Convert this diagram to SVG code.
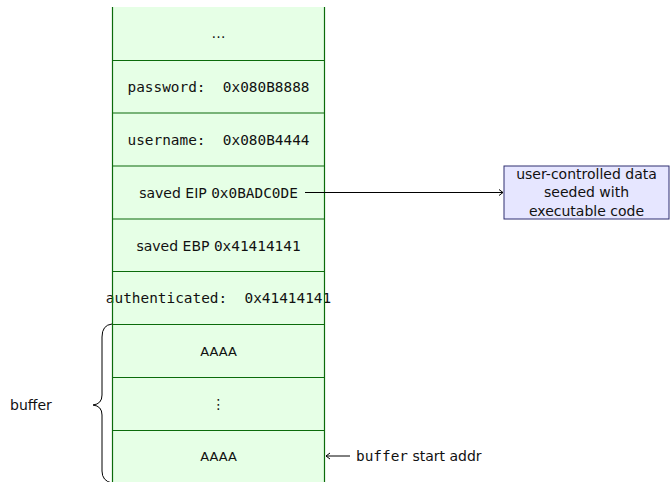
<svg xmlns="http://www.w3.org/2000/svg" width="670" height="482" viewBox="0 0 670 482">
<style>
.cell{fill:#e6ffe6;stroke:none}
.div{stroke:#0b6b0b;stroke-width:1.2;fill:none}
.mono{font-family:"DejaVu Sans Mono",monospace;font-size:14.4px;fill:#111}
.sans{font-family:"DejaVu Sans",sans-serif;font-size:14px;fill:#111}
.t{text-anchor:middle;dominant-baseline:central}
.edge{stroke:#000;stroke-width:1;fill:none}
</style>
<defs>
<marker id="open" markerWidth="10" markerHeight="10" refX="8" refY="5" orient="auto" markerUnits="userSpaceOnUse">
<path d="M4,2 L8,5 L4,8" fill="none" stroke="#000" stroke-width="1"/>
</marker>
</defs>
<rect class="cell" x="112.5" y="7" width="212" height="476"/>
<g id="row-top"><text class="sans t" x="218.5" y="33">…</text></g>
<g id="row-password"><text class="mono t" x="218.5" y="87" xml:space="preserve">password:  0x080B8888</text></g>
<g id="row-username"><text class="mono t" x="218.5" y="140" xml:space="preserve">username:  0x080B4444</text></g>
<g id="row-eip"><text class="t" x="218.5" y="192.5"><tspan class="sans">saved EIP </tspan><tspan class="mono">0x0BADC0DE</tspan></text></g>
<g id="row-ebp"><text class="t" x="218.5" y="245.5"><tspan class="sans">saved EBP </tspan><tspan class="mono">0x41414141</tspan></text></g>
<g id="row-auth"><text class="mono t" x="218.5" y="298" xml:space="preserve">authenticated:  0x41414141</text></g>
<g id="row-aaaa1"><text class="sans t" x="218.5" y="351" style="font-size:13px">AAAA</text></g>
<g id="row-vdots"><text class="sans t" x="218.5" y="404">⋮</text></g>
<g id="row-aaaa2"><text class="sans t" x="218.5" y="456" style="font-size:13px">AAAA</text></g>
<path class="div" d="M112.5,7 V483 M324.5,7 V483 M112.5,60.5 H324.5 M112.5,113 H324.5 M112.5,166 H324.5 M112.5,219 H324.5 M112.5,271.5 H324.5 M112.5,324.5 H324.5 M112.5,377.5 H324.5 M112.5,430.5 H324.5"/>
<g id="payload">
<rect x="504" y="166" width="165" height="53" fill="#e6e6ff" stroke="#2e2e70" stroke-width="1"/>
<text class="sans t" x="586.5" y="173.5">user-controlled data</text>
<text class="sans t" x="586.5" y="192">seeded with</text>
<text class="sans t" x="586.5" y="210.5">executable code</text>
</g>
<g id="buffer-label">
<path class="edge" d="M112,324 Q102,325 102,337 V395 Q102,404 93,405 Q102,406 102,415 V471 Q102,481 112,483"/>
<text class="sans" x="10" y="410">buffer</text>
</g>
<g id="start-label">
<text x="356" y="461"><tspan class="mono">buffer</tspan><tspan class="sans"> start addr</tspan></text>
</g>
<g id="connectors">
<path class="edge" d="M305,192.5 H503" marker-end="url(#open)"/>
<path class="edge" d="M350,456 H326" marker-end="url(#open)"/>
</g>
</svg>
